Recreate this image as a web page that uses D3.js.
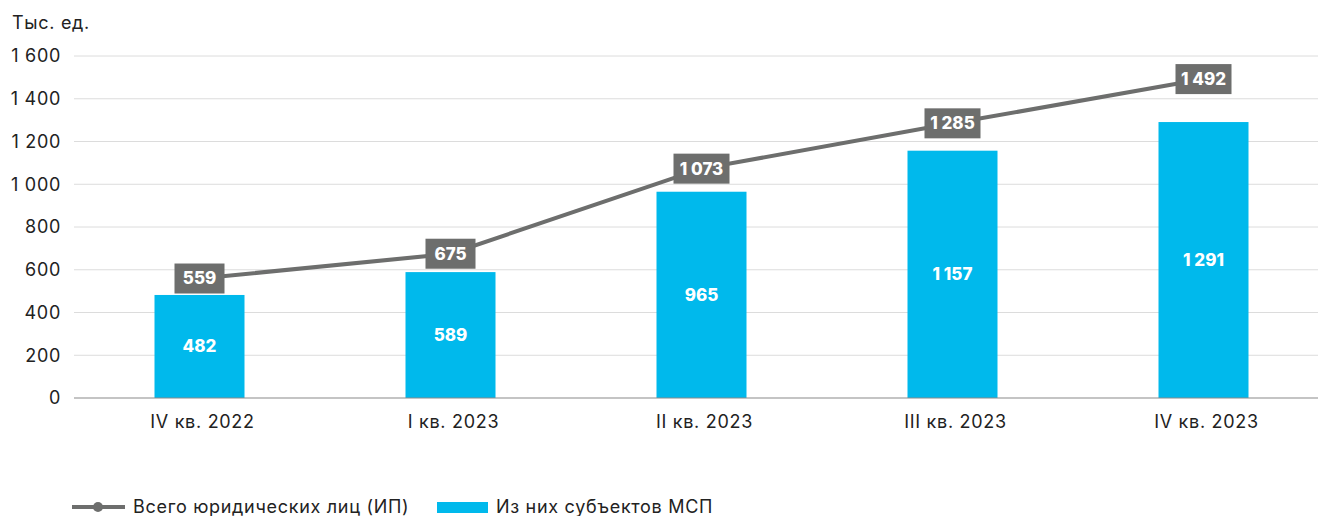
<!DOCTYPE html>
<html><head><meta charset="utf-8">
<script src="https://cdn.jsdelivr.net/npm/d3@7"></script>
<style>
body{margin:0;background:#fff;}
text{font-family:"Inter","Open Sans",sans-serif;}
</style></head>
<body><svg id="c" width="1319" height="516"></svg>
<script>
const categories = ["IV кв. 2022","I кв. 2023","II кв. 2023","III кв. 2023","IV кв. 2023"];
const totalValues = [559, 675, 1073, 1285, 1492];
const smeValues = [482, 589, 965, 1157, 1291];
const yTicks = [0, 200, 400, 600, 800, 1000, 1200, 1400, 1600];
const seriesNames = ["Всего юридических лиц (ИП)", "Из них субъектов МСП"];
const unitLabel = "Тыс. ед.";

const fmt = v => d3.format(",")(v).replace(/,/g, " ");
const svg = d3.select("#c");
const x = d3.scaleBand().domain(categories).range([74, 1329]);
const y = d3.scaleLinear().domain([0, 1600]).range([398, 56]);
const barW = 90;
const lineColor = "#6d6e6d", barColor = "#00b9ec";
const fs = 18, ls = "0.7px";

svg.append("text").attr("x", 12).attr("y", 29).attr("font-size", fs).attr("letter-spacing", ls).attr("fill", "#222").text(unitLabel);

// grid
svg.append("g").selectAll("line").data(yTicks.filter(d => d > 0)).join("line")
  .attr("x1", 74).attr("x2", 1318).attr("y1", d => y(d)).attr("y2", d => y(d))
  .attr("stroke", "#dcdcdc").attr("stroke-width", 1);
// y labels
svg.append("g").selectAll("text").data(yTicks).join("text")
  .attr("x", 61).attr("y", d => y(d)).attr("dy", "0.35em").attr("text-anchor", "end")
  .attr("font-size", fs).attr("letter-spacing", ls).attr("fill", "#222").text(d => fmt(d));

// bars
const bx = c => x(c) + x.bandwidth() / 2 - barW / 2;
svg.append("g").selectAll("rect").data(smeValues).join("rect")
  .attr("x", (d, i) => bx(categories[i])).attr("width", barW)
  .attr("y", d => y(d)).attr("height", d => y(0) - y(d)).attr("fill", barColor);
svg.append("g").selectAll("text").data(smeValues).join("text")
  .attr("x", (d, i) => x(categories[i]) + x.bandwidth() / 2)
  .attr("y", d => (y(d) + y(0)) / 2).attr("dy", "0.35em").attr("text-anchor", "middle")
  .attr("font-size", 17).attr("font-weight", 800).attr("fill", "#fff").text(d => fmt(d));

// axis line
svg.append("line").attr("x1", 74).attr("x2", 1318).attr("y1", y(0)).attr("y2", y(0))
  .attr("stroke", "#8a8a8a").attr("stroke-width", 1.2);
svg.append("g").selectAll("text").data(categories).join("text")
  .attr("x", d => x(d) + x.bandwidth() / 2 + 3).attr("y", 428).attr("text-anchor", "middle")
  .attr("font-size", fs).attr("letter-spacing", ls).attr("fill", "#222").text(d => d);

// line
const cx = (d, i) => x(categories[i]) + x.bandwidth() / 2;
svg.append("path").datum(totalValues)
  .attr("d", d3.line().x(cx).y(d => y(d)))
  .attr("fill", "none").attr("stroke", lineColor).attr("stroke-width", 4);
const lbl = svg.append("g").selectAll("g").data(totalValues).join("g")
  .attr("transform", (d, i) => `translate(${cx(d, i)},${y(d)})`);
lbl.append("rect").attr("x", d => d >= 1000 ? -28 : -25).attr("width", d => d >= 1000 ? 56 : 50)
  .attr("y", -15).attr("height", 30).attr("fill", lineColor);
lbl.append("text").attr("text-anchor", "middle").attr("dy", "0.35em")
  .attr("font-size", 17).attr("font-weight", 800).attr("fill", "#fff").text(d => fmt(d));

// legend
const lg = svg.append("g").attr("transform", "translate(0,507)");
lg.append("line").attr("x1", 72).attr("x2", 125).attr("y1", 0).attr("y2", 0).attr("stroke", lineColor).attr("stroke-width", 4);
lg.append("circle").attr("cx", 98).attr("cy", 0).attr("r", 5).attr("fill", lineColor);
lg.append("text").attr("x", 133).attr("dy", "0.35em").attr("font-size", fs).attr("letter-spacing", ls).attr("fill", "#222").text(seriesNames[0]);
lg.append("rect").attr("x", 437).attr("y", -5).attr("width", 51).attr("height", 11).attr("fill", barColor);
lg.append("text").attr("x", 496).attr("dy", "0.35em").attr("font-size", fs).attr("letter-spacing", ls).attr("fill", "#222").text(seriesNames[1]);
</script></body></html>
